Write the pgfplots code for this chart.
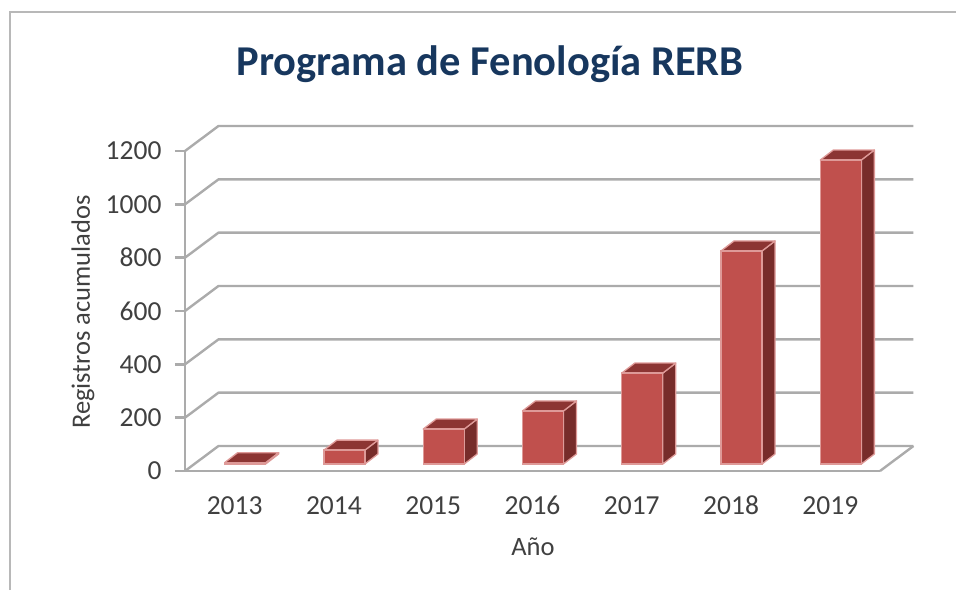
\documentclass[border=0pt]{standalone}
\usepackage{pgfplots}
\pgfplotsset{compat=1.18}
\usepackage{fontspec}
\setmainfont{Carlito}
\definecolor{frontc}{HTML}{C0504D}
\definecolor{sidec}{HTML}{772C2A}
\definecolor{topc}{HTML}{8C3533}
\definecolor{edgec}{HTML}{DE9A98}
\definecolor{gridc}{HTML}{ABABAB}
\definecolor{titlec}{HTML}{17375E}
\definecolor{textc}{HTML}{404040}
% depth faces of one bar: index, value (front face is the ybar plot)
\newcommand{\barsides}[2]{%
  \addplot[forget plot,xshift=10.5pt,yshift=7pt,fill=sidec,draw=edgec,line width=1.3pt,line join=round]
    coordinates {(#1+0.2065,0) (#1+0.3375,37.5) (#1+0.3375,#2+37.5) (#1+0.2065,#2)} -- cycle;
  \addplot[forget plot,xshift=10.5pt,yshift=7pt,fill=topc,draw=edgec,line width=1.3pt,line join=round]
    coordinates {(#1-0.2065,#2) (#1+0.2065,#2) (#1+0.3375,#2+37.5) (#1-0.0755,#2+37.5)} -- cycle;
}
\begin{document}
\begin{tikzpicture}
\path[use as bounding box] (-185pt,-119pt) rectangle (771pt,471pt);
\draw[color=gridc!85!white,line width=2.4pt] (-175pt,-119pt) -- (-175pt,459pt) -- (771pt,459pt);
\begin{axis}[
  at={(0pt,0pt)},anchor=south west,
  name=ax,
  scale only axis,
  width=695pt,height=320pt,
  xmin=-0.5,xmax=6.5,ymin=0,ymax=1200,
  clip=false,
  axis x line*=bottom,axis y line*=left,
  axis line style={color=gridc,line width=2.4pt,-},
  xtick={0,1,2,3,4,5,6},
  xticklabels={2013,2014,2015,2016,2017,2018,2019},
  ytick={0,200,400,600,800,1000,1200},
  x tick style={draw=none},
  y tick style={color=gridc,line width=2.4pt},
  major tick length=10pt,
  tick align=outside,
  /pgf/number format/assume math mode=true,
  /pgf/number format/1000 sep={},
  ticklabel style={font=\fontsize{27.5}{30}\selectfont,color=textc},
  yticklabel style={xshift=-10pt},
  xticklabel style={text height=18pt,text depth=0pt,yshift=-12pt},
  title={\textbf{Programa de Fenología RERB}},
  title style={at={(axis description cs:0.439,1.253)},anchor=center,font=\fontsize{42.5}{46}\selectfont,color=titlec},
  xlabel={Año},
  xlabel style={at={(axis description cs:0.5007,-0.2375)},anchor=center,font=\fontsize{26.5}{30}\selectfont,color=textc},
  ylabel={Registros acumulados},
  ylabel style={at={(axis description cs:-0.147,0.497)},anchor=center,font=\fontsize{26.5}{30}\selectfont,color=textc},
]
% back wall and floor lines
\pgfplotsinvokeforeach{0,200,400,600,800,1000,1200}{
  \addplot[forget plot,color=gridc,line width=2.4pt,line join=round]
    coordinates {(-0.5,#1) (-0.1626,#1+93.75) (6.8374,#1+93.75)};
}
\addplot[forget plot,color=gridc,line width=2.4pt] coordinates {(6.5,0) (6.8374,93.75)};
% depth faces
\barsides{0}{5}
\barsides{1}{52}
\barsides{2}{131}
\barsides{3}{199}
\barsides{4}{341}
\barsides{5}{799}
\barsides{6}{1140}
% front faces
\addplot[ybar,bar width=41pt,bar shift=10.5pt,yshift=7pt,fill=frontc,draw=edgec,line width=1.3pt]
  coordinates {(0,5) (1,52) (2,131) (3,199) (4,341) (5,799) (6,1140)};
\end{axis}
\end{tikzpicture}
\end{document}
